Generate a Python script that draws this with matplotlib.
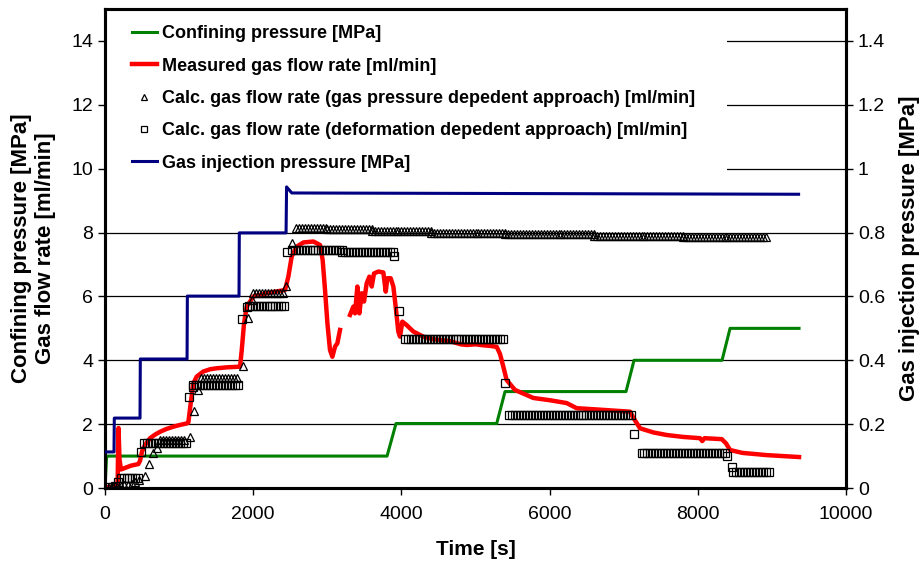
import numpy as np
import matplotlib
matplotlib.use("Agg")
import matplotlib.pyplot as plt
from matplotlib.patches import Rectangle
from matplotlib.ticker import FormatStrFormatter

plt.rcParams['font.family'] = ['Liberation Sans', 'DejaVu Sans']

# confining pressure [MPa]
t_conf = [0, 20, 40, 3806, 3927, 5286, 5398, 7031, 7139, 8327, 8435, 9366]
p_conf = [0, 0.95, 1.0, 1.0, 2.02, 2.02, 3.02, 3.02, 4.0, 4.0, 5.0, 5.0]

# gas injection pressure [MPa] (right axis)
t_inj = [0, 121, 125, 472, 476, 1107, 1111, 1808, 1812, 2443, 2450, 2520, 9360]
p_inj = [0.113, 0.113, 0.219, 0.219, 0.404, 0.404, 0.601, 0.601, 0.799, 0.799, 0.943, 0.924, 0.920]

# measured gas flow rate [ml/min], gap in logging around 3200-3300 s
t_meas = [0, 60, 120, 170, 176, 182, 195, 215, 260, 350, 450, 472, 500, 540, 607,
          680, 742, 830, 922, 1020, 1100, 1124, 1156, 1192, 1237, 1327, 1420,
          1507, 1650, 1822, 1845, 1876, 1912, 2002, 2182, 2300, 2429, 2474,
          2519, 2587, 2677, 2812, 2902, 2937, 2969, 3001, 3036, 3068, 3104,
          3135, 3171, np.nan,
          3306, 3351, 3374, 3405, 3432, 3464, 3495, 3531, 3567, 3599, 3630,
          3689, 3756, 3788, 3810, 3855, 3891, 3927, 3958, 3981, 4012, 4071,
          4161, 4296, 4431, 4656, 4800, 4881, 5000, 5100, 5200, 5286, 5330,
          5375, 5420, 5533, 5780, 6000, 6230, 6365, 6700, 7085, 7130, 7220,
          7400, 7580, 7800, 8030, 8060, 8090, 8323, 8380, 8435, 8600, 8930, 9366]
q_meas = [0.02, 0.03, 0.05, 0.1, 1.2, 1.88, 0.9, 0.58, 0.62, 0.7, 0.75, 0.85, 1.15, 1.35, 1.56,
          1.68, 1.76, 1.85, 1.92, 1.98, 2.02, 2.05, 2.65, 3.28, 3.49, 3.65, 3.72,
          3.75, 3.78, 3.8, 4.32, 5.16, 5.68, 6.0, 6.1, 6.15, 6.2, 6.62,
          7.25, 7.56, 7.69, 7.72, 7.61, 7.14, 6.2, 5.16, 4.32, 4.11, 4.43,
          4.53, 4.95, np.nan,
          5.42, 5.68, 5.47, 6.31, 5.47, 6.1, 5.84, 6.41, 6.62, 6.31, 6.72,
          6.78, 6.75, 6.15, 6.57, 6.57, 6.31, 5.58, 4.9, 4.74, 5.21, 5.1,
          4.9, 4.74, 4.66, 4.6, 4.5, 4.48, 4.5, 4.47, 4.45, 4.42, 4.2,
          3.8, 3.38, 3.07, 2.82, 2.75, 2.66, 2.5, 2.45, 2.39, 2.2, 1.87,
          1.74, 1.66, 1.6, 1.56, 1.47, 1.56, 1.53, 1.4, 1.19, 1.1, 1.03, 0.97]

# calculated flow rate, gas pressure dependent approach: single readings
t_tri = [60, 110, 160, 210, 260, 310, 360, 410, 460, 540, 598, 652, 706, 1140,
         1200, 1260, 1858, 1925, 1980, 2445, 2520]
q_tri = [0.0, 0.0, 0.02, 0.05, 0.08, 0.1, 0.14, 0.2, 0.26, 0.37, 0.75, 1.09, 1.25, 1.6,
         2.42, 3.07, 3.82, 5.31, 5.9, 6.33, 7.66]
# ... and flat stretches (start [s], end [s], level [ml/min])
tri_rows = [(742, 1100, 1.5), (1300, 1800, 3.43), (2000, 2400, 6.1),
            (2580, 3000, 8.15), (3000, 3600, 8.1), (3600, 4400, 8.05),
            (4400, 5400, 8.0), (5400, 6600, 7.95), (6600, 7800, 7.9),
            (7800, 8950, 7.87)]

# calculated flow rate, deformation dependent approach
t_sq = [40, 90, 140, 180, 481, 1138, 1182, 1853, 1912, 2461, 3900, 3968, 5398,
        7143, 8400, 8457]
q_sq = [0.02, 0.02, 0.05, 0.2, 1.14, 2.86, 3.17, 5.29, 5.68, 7.4, 7.27, 5.55, 3.3,
        1.68, 1.0, 0.65]
sq_rows = [(210, 460, 0.3), (530, 1125, 1.4), (1190, 1820, 3.23), (1940, 2430, 5.7),
           (2520, 3200, 7.45), (3200, 3880, 7.4), (4050, 5375, 4.68),
           (5457, 7100, 2.3), (7240, 8380, 1.09), (8480, 8980, 0.51)]

dt_log = 40  # logging interval of the calculated values [s]


def expand(t_single, q_single, rows):
    t = list(t_single)
    q = list(q_single)
    for t0, t1, level in rows:
        tt = np.arange(t0, t1 + 1, dt_log)
        t.extend(tt)
        q.extend([level] * len(tt))
    order = np.argsort(t)
    return np.array(t)[order], np.array(q)[order]


t_tri_all, q_tri_all = expand(t_tri, q_tri, tri_rows)
t_sq_all, q_sq_all = expand(t_sq, q_sq, sq_rows)

fig = plt.figure(figsize=(9.23, 5.66), dpi=100)
ax = fig.add_axes([0.1138, 0.1378, 0.8028, 0.8462])
ax2 = ax.twinx()

l1, = ax.plot(t_conf, p_conf, color='#008000', lw=2.2, label='Confining pressure [MPa]', zorder=3)
l2, = ax.plot(t_meas, q_meas, color='#ff0000', lw=3.2, label='Measured gas flow rate [ml/min]', zorder=3)
l3, = ax.plot(t_tri_all, q_tri_all, ls='none', marker='^', ms=5.5, mfc='none', mec='black', mew=0.9,
              label='Calc. gas flow rate (gas pressure depedent approach) [ml/min]', zorder=4)
l4, = ax.plot(t_sq_all, q_sq_all, ls='none', marker='s', ms=5.5, mfc='none', mec='black', mew=0.9,
              label='Calc. gas flow rate (deformation depedent approach) [ml/min]', zorder=4)
l5, = ax2.plot(t_inj, p_inj, color='#000080', lw=2.2, label='Gas injection pressure [MPa]', zorder=3)

ax.set_xlim(0, 10000)
ax.set_ylim(0, 15)
ax2.set_ylim(0, 1.5)
ax.set_xticks(range(0, 10001, 2000))
ax.set_yticks(range(0, 15, 2))
ax2.set_yticks(np.arange(0, 1.41, 0.2))
ax2.yaxis.set_major_formatter(FormatStrFormatter('%g'))

ax.yaxis.grid(True, color='black', lw=0.9)
ax.set_axisbelow(True)

for a in (ax, ax2):
    for s in a.spines.values():
        s.set_linewidth(2.2)
    a.tick_params(direction='out', length=5, width=1, labelsize=14)
ax.tick_params(axis='x', pad=8)

ax.set_xlabel('Time [s]', fontsize=15, fontweight='bold', labelpad=12)
ax.set_ylabel('Confining pressure [MPa]\nGas flow rate [ml/min]', fontsize=16,
              fontweight='bold', linespacing=1.2, labelpad=11)
ax2.set_ylabel('Gas injection pressure [MPa]', fontsize=16, fontweight='bold', labelpad=10)

# white area behind the legend hides the upper grid lines
ax.add_patch(Rectangle((0, 0.64), 0.839, 0.36, transform=ax.transAxes,
                       facecolor='white', edgecolor='none', zorder=1))

leg = ax2.legend(handles=[l1, l2, l3, l4, l5], loc='upper left', frameon=False,
                 bbox_to_anchor=(0.014, 1.0), handlelength=1.4,
                 handletextpad=0.3, labelspacing=0.85, markerscale=0.85,
                 prop={'weight': 'bold', 'size': 13})

fig.savefig('out.png', dpi=100)
